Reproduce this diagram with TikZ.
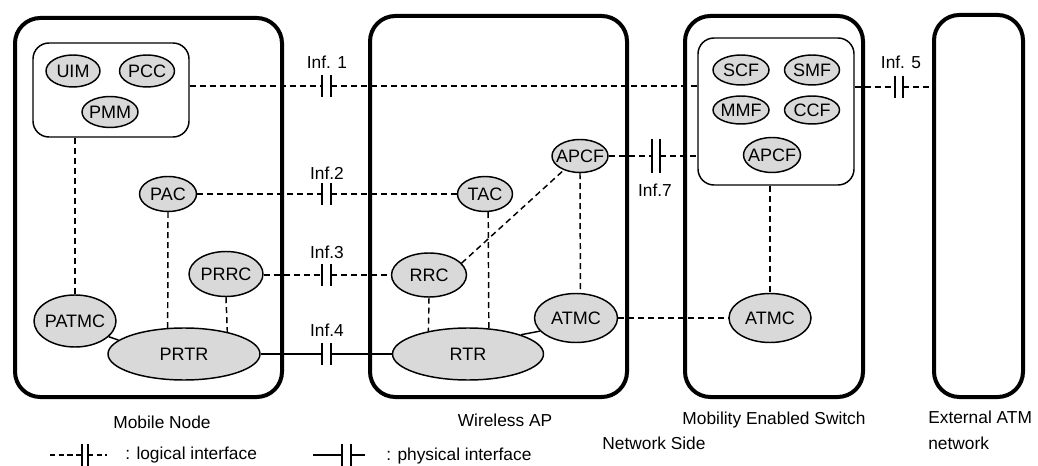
\documentclass[tikz,border=0pt]{standalone}
\usepackage{fontspec}
\setmainfont{Liberation Sans}
\usetikzlibrary{shapes.geometric}
\newcommand{\zw}[1]{\makebox[0pt]{#1}}
\begin{document}
\begin{tikzpicture}[x=0.75pt,y=-0.75pt,
  font=\fontsize{13}{15.5}\selectfont,
  bigbox/.style={draw,line width=3pt,rounded corners=19pt,inner sep=0pt},
  inbox/.style={draw,line width=1.1pt,rounded corners=12pt,inner sep=0pt},
  fe/.style n args={2}{ellipse,draw,line width=1.1pt,fill=black!15,inner sep=0pt,
     font=\fontsize{13.5}{16}\selectfont,
     minimum width=#1*0.75pt,minimum height=#2*0.75pt},
  logic/.style={line width=1.1pt,dash pattern=on 4.5pt off 3pt},
  phys/.style={line width=1.1pt},
  bar/.style={line width=1.1pt},
  lbl/.style={inner sep=0pt}]
\useasboundingbox (0,0) rectangle (1038,466);

% big boxes
\node[bigbox,minimum width=267*0.75pt,minimum height=379*0.75pt] (mn) at (148.5,207.5) {};
\node[bigbox,minimum width=257*0.75pt,minimum height=381*0.75pt] (ap) at (498.5,206.5) {};
\node[bigbox,minimum width=178*0.75pt,minimum height=381*0.75pt] (mes) at (774,206.5) {};
\node[bigbox,minimum width=89*0.75pt,minimum height=382*0.75pt] (ext) at (978.5,206) {};

% inner boxes
\node[inbox,minimum width=156*0.75pt,minimum height=94*0.75pt] (mnin) at (111,90) {};
\node[inbox,minimum width=156*0.75pt,minimum height=147*0.75pt] (mesin) at (776,111.5) {};

% mobile node functions
\node[fe={54}{32}] (uim) at (73,71) {\zw{UIM}};
\node[fe={55}{32}] (pcc) at (147,71) {\zw{PCC}};
\node[fe={56}{31}] (pmm) at (110,112) {\zw{PMM}};
\node[fe={57}{35}] (pac) at (168,194) {\zw{PAC}};
\node[fe={74}{45}] (prrc) at (226,274) {\zw{PRRC}};
\node[fe={82}{52}] (patmc) at (75,321) {\zw{PATMC}};
\node[fe={152}{52}] (prtr) at (184,354) {\zw{PRTR}};

% wireless AP functions
\node[fe={56}{33}] (apcf) at (580,156) {\zw{APCF}};
\node[fe={55}{35}] (tac) at (485,194) {\zw{TAC}};
\node[fe={75}{44}] (rrc) at (429,275) {\zw{RRC}};
\node[fe={83}{49}] (atmc) at (576,318) {\zw{ATMC}};
\node[fe={151}{52}] (rtr) at (468,354) {\zw{RTR}};

% switch functions
\node[fe={56}{30}] (scf) at (741,70) {\zw{SCF}};
\node[fe={55}{30}] (smf) at (812,70) {\zw{SMF}};
\node[fe={56}{28}] (mmf) at (741,110) {\zw{MMF}};
\node[fe={55}{28}] (ccf) at (812,110) {\zw{CCF}};
\node[fe={57}{35}] (apcfs) at (772,155) {\zw{APCF}};
\node[fe={82}{49}] (atmcs) at (770,318) {\zw{ATMC}};

% interface coordinates
\coordinate (b1l) at (322,86);  \coordinate (b1r) at (331,86);
\coordinate (b2l) at (322,194); \coordinate (b2r) at (331,194);
\coordinate (b3l) at (322,275); \coordinate (b3r) at (331,275);
\coordinate (b4l) at (322,354); \coordinate (b4r) at (331,354);
\coordinate (b5l) at (895,87);  \coordinate (b5r) at (903,87);
\coordinate (b7l) at (652,156); \coordinate (b7r) at (660,156);

% Inf.1
\draw[logic] (mnin.east |- b1l) -- (b1l);
\draw[logic] (b1r) -- (mesin.west |- b1r);
% Inf.2
\draw[logic] (pac.east) -- (b2l);
\draw[logic] (b2r) -- (tac.west);
% Inf.3
\draw[logic] (prrc.east |- b3l) -- (b3l);
\draw[logic] (b3r) -- (rrc.west);
% Inf.4
\draw[phys] (prtr.east) -- (b4l);
\draw[phys] (b4r) -- (rtr.west);
% Inf.5
\draw[logic] (mesin.east |- b5l) -- (b5l);
\draw[logic] (b5r) -- (ext.west |- b5r);
% Inf.7
\draw[logic] (apcf.east) -- (b7l);
\draw[logic] (b7r) -- (mesin.west |- b7r);

% bars
\foreach \b in {b1l,b1r,b2l,b2r,b3l,b3r,b4l,b4r,b5l,b5r}
  \draw[bar] ([yshift=8pt]\b) -- ([yshift=-8pt]\b);
\foreach \b in {b7l,b7r}
  \draw[bar] ([yshift=13pt]\b) -- ([yshift=-13pt]\b);

% interface labels
\node[lbl] (l1) at (327,62) {Inf. 1};
\node[lbl] (l2) at (327,173) {Inf.2};
\node[lbl] (l3) at (327,252) {Inf.3};
\node[lbl] (l4) at (327,330) {Inf.4};
\node[lbl] (l5) at (901,62) {Inf. 5};
\node[lbl] (l7) at (655,190) {Inf.7};

% internal connectors, mobile node
\draw[logic] (mnin.south -| patmc.north) -- (patmc.north);
\draw[logic] (pac.south) -- (prtr.122);
\draw[logic] (prrc.south) -- (prtr.27.3);
\draw[phys] (patmc.-25) -- (prtr.168.9);

% internal connectors, wireless AP
\draw[logic] (tac.-80) -- (rtr.51.4);
\draw[logic] (rrc.south) -- (rtr.150.2);
\draw[logic] (apcf.south) -- (atmc.80.7);
\draw[logic] (rrc.20) -- (apcf.221);
\draw[phys] (atmc.200) -- (rtr.20);
\draw[logic] (atmc.east) -- (atmcs.west);

% switch
\draw[logic] (mesin.south -| atmcs.north) -- (atmcs.north);

% box labels
\node[lbl] (tmn) at (162,422) {Mobile Node};
\node[lbl] (tap) at (505,420) {Wireless AP};
\node[lbl] (tmes) at (774,420) {Mobility Enabled Switch};
\node[lbl] (tns) at (654,443) {Network Side};
\node[lbl,anchor=north west,align=left,font=\fontsize{13}{19}\selectfont] (text) at (928,411) {External ATM\\network};

% legend
\coordinate (g1a) at (50,455); \coordinate (g1l) at (82,455);
\coordinate (g1r) at (88,455); \coordinate (g1b) at (107,455);
\draw[logic,dash pattern=on 4pt off 2.5pt] (g1a) -- (g1l);
\draw[logic,dash pattern=on 4pt off 2.5pt] (g1r) -- (g1b);
\draw[bar] ([yshift=8pt]g1l) -- ([yshift=-8pt]g1l);
\draw[bar] ([yshift=8pt]g1r) -- ([yshift=-8pt]g1r);
\node[lbl,anchor=west] (tlog) at (125,455) {: logical interface};

\coordinate (g2a) at (313,455); \coordinate (g2l) at (342,455);
\coordinate (g2r) at (351,455); \coordinate (g2b) at (365,455);
\draw[phys] (g2a) -- (g2l);
\draw[phys] (g2r) -- (g2b);
\draw[bar] ([yshift=8pt]g2l) -- ([yshift=-8pt]g2l);
\draw[bar] ([yshift=8pt]g2r) -- ([yshift=-8pt]g2r);
\node[lbl,anchor=west] (tphy) at (386,456) {: physical interface};
\end{tikzpicture}
\end{document}
